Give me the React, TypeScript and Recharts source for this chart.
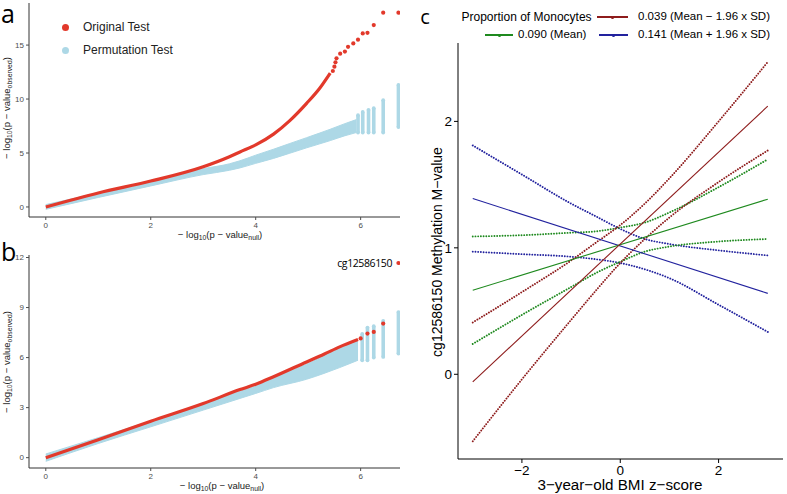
import React from "react";
import { ComposedChart, LineChart, Line, Area, Scatter, XAxis, YAxis } from "recharts";

const RED = "#e2392b";
const LBLUE = "#add8e6";
const AXIS = "#333333";
const TICK = "#4d4d4d";
const SANS = "'Liberation Sans', Arial, Helvetica, sans-serif";

// panel a: QQ plot, genome-wide
const aX = [0, 1, 2, 3, 3.5, 3.7, 4, 4.34, 4.65, 4.97, 5.22, 5.42, 5.7, 5.92];
const aOriginal = [0, 1.3, 2.4, 3.73, 4.66, 5.1, 5.75, 6.75, 8.0, 9.6, 11.0, 12.4, null, null];
const aPermLow = [-0.22, 0.88, 1.95, 3.0, 3.4, 3.62, 4.04, 4.5, 4.98, 5.48, 5.85, 6.15, 6.6, 6.9];
const aPermHigh = [0.22, 1.3, 2.45, 3.55, 4.0, 4.28, 4.8, 5.35, 5.88, 6.42, 6.85, 7.2, 7.72, 8.1];
const aTailX = [5.47, 5.5, 5.52, 5.54, 5.61, 5.7, 5.76, 5.86, 5.95, 6.04, 6.13, 6.25, 6.43, 6.72];
const aTailY = [12.6, 13.0, 13.4, 13.77, 14.2, 14.4, 14.84, 15.15, 15.5, 16.08, 16.14, 16.85, 18.0, 18.0];
const aStripeX = [5.95, 6.04, 6.15, 6.25, 6.43, 6.72];
const aStripeLow = [6.9, 6.9, 6.9, 6.9, 6.9, 7.4];
const aStripeHigh = [8.5, 8.8, 9.0, 9.15, 9.9, 11.3];

// panel b: QQ plot, candidate
const bX = [0, 1, 2, 3, 3.7, 4, 4.34, 4.97, 5.3, 5.6, 5.95];
const bOriginal = [0, 1.08, 2.18, 3.24, 4.08, 4.4, 4.85, 5.74, 6.2, 6.64, 7.08];
const bPermLow = [-0.22, 0.85, 1.85, 2.85, 3.55, 3.85, 4.2, 4.7, 5.05, 5.4, 5.84];
const bPermHigh = [0.22, 1.2, 2.2, 3.25, 3.98, 4.3, 4.8, 5.6, 6.1, 6.55, 7.0];
const bTailX = [6.0, 6.13, 6.25, 6.43, 6.72];
const bTailY = [7.15, 7.44, 7.54, 8.04, 11.67];
const bStripeX = [6.03, 6.13, 6.25, 6.43, 6.72];
const bStripeLow = [5.84, 5.84, 6.0, 6.04, 6.24];
const bStripeHigh = [7.42, 7.8, 7.88, 8.2, 8.73];

// panel c: simple slopes
const cX = [-3, -2, -1, -0.5, 0, 0.5, 1, 2, 3];
const lowFit = [-0.06, null, null, null, null, null, null, null, 2.12];
const lowUpper = [0.41, 0.65, 0.9, 1.04, 1.18, 1.35, 1.55, 2.0, 2.47];
const lowLower = [-0.53, -0.04, 0.43, 0.66, 0.88, 1.07, 1.24, 1.52, 1.77];
const meanFit = [0.665, null, null, null, null, null, null, null, 1.385];
const meanUpper = [1.09, 1.1, 1.12, 1.13, 1.16, 1.2, 1.28, 1.48, 1.7];
const meanLower = [0.24, 0.47, 0.69, 0.8, 0.89, 0.97, 1.01, 1.05, 1.07];
const highFit = [1.39, null, null, null, null, null, null, null, 0.64];
const highUpper = [1.81, 1.58, 1.35, 1.25, 1.15, 1.07, 1.03, 0.98, 0.94];
const highLower = [0.97, 0.95, 0.93, 0.91, 0.88, 0.83, 0.76, 0.55, 0.335];

const DRED = "#8e1c1c";
const DGREEN = "#1f8a1f";
const DBLUE = "#22229e";

const dot = (fill: string, r: number) => (p: any) => <circle cx={p.cx} cy={p.cy} r={r} fill={fill} />;

function Txt({ x, y, size, children, color = "#111", rotate = false, family = SANS, anchor = "middle", style }: any) {
  let transform = "translate(-50%,-50%)";
  if (anchor === "start") transform = "translateY(-50%)";
  if (anchor === "end") transform = "translate(-100%,-50%)";
  if (anchor === "top") transform = "none";
  if (rotate) transform = "translate(-50%,-50%) rotate(-90deg)";
  return (
    <div
      style={{
        position: "absolute",
        left: x,
        top: y,
        fontSize: size,
        color,
        fontFamily: family,
        whiteSpace: "nowrap",
        lineHeight: 1,
        transform,
        ...style,
      }}
    >
      {children}
    </div>
  );
}

const sub = { fontSize: "0.72em", verticalAlign: "-0.25em" };

function QQPanel({ xs, original, low, high, tailX, tailY, stripeX, stripeLow, stripeHigh, yDomain, yTicks, top, height }: any) {
  const data = xs.map((x: number, i: number) => ({ x, original: original[i], perm: [low[i], high[i]] }));
  const tail = tailX.map((x: number, i: number) => ({ x, y: tailY[i] }));
  return (
    <div style={{ position: "absolute", left: 0, top }}>
      <ComposedChart width={400} height={height} data={data} margin={{ top: 3, right: 0, left: 0, bottom: 0 }}>
        <XAxis dataKey="x" type="number" domain={[-0.32, 6.75]} ticks={[0, 2, 4, 6]} height={23}
          stroke={AXIS} tickSize={3} tick={{ fontSize: 8, fill: TICK, fontFamily: SANS }} tickLine={{ stroke: TICK }} />
        <YAxis type="number" domain={yDomain} ticks={yTicks} width={29}
          stroke={AXIS} tickSize={3} tick={{ fontSize: 8, fill: TICK, fontFamily: SANS }} tickLine={{ stroke: TICK }} />
        <Area dataKey="perm" type="monotone" stroke={LBLUE} strokeWidth={1} fill={LBLUE} fillOpacity={1} isAnimationActive={false} />
        {stripeX.map((x: number, i: number) => (
          <Scatter key={i} dataKey="y" data={[{ x, y: stripeLow[i] }, { x, y: stripeHigh[i] }]}
            line={{ stroke: LBLUE, strokeWidth: 3.6 }} shape={dot(LBLUE, 1.9)} isAnimationActive={false} />
        ))}
        <Line dataKey="original" type="monotone" stroke={RED} strokeWidth={3.2} dot={false} isAnimationActive={false} />
        <Scatter dataKey="y" data={tail} shape={dot(RED, 2.1)} isAnimationActive={false} />
      </ComposedChart>
    </div>
  );
}

const minus = (v: number) => String(v).replace("-", "\u2212");

function LegendKey({ x, y, w, color }: any) {
  return (
    <>
      <div style={{ position: "absolute", left: x, top: y - 0.75, width: w, height: 1.5, background: color }} />
      <div style={{ position: "absolute", left: x + w / 2 - 1.5, top: y - 1.5, width: 3, height: 3, borderRadius: 2, background: color }} />
    </>
  );
}

export default function App() {
  const cData = cX.map((x, i) => ({
    x,
    lowFit: lowFit[i], lowUpper: lowUpper[i], lowLower: lowLower[i],
    meanFit: meanFit[i], meanUpper: meanUpper[i], meanLower: meanLower[i],
    highFit: highFit[i], highUpper: highUpper[i], highLower: highLower[i],
  }));
  const dotted = {
    strokeDasharray: "0.01 2.7",
    strokeLinecap: "round" as const,
    strokeWidth: 1.9,
    dot: false,
    type: "monotone" as const,
    isAnimationActive: false,
  };
  const solid = { strokeWidth: 1.1, dot: false, type: "linear" as const, connectNulls: true, isAnimationActive: false };
  const yTitle = (
    <>
      {"\u2212"} log<span style={sub}>10</span>(p {"\u2212"} value<span style={sub}>observed</span>)
    </>
  );
  const xTitle = (
    <>
      {"\u2212"} log<span style={sub}>10</span>(p {"\u2212"} value<span style={sub}>null</span>)
    </>
  );
  return (
    <div style={{ position: "absolute", left: 0, top: 0, width: 787, height: 494, background: "#fff", overflow: "hidden", fontFamily: SANS }}>
      <QQPanel xs={aX} original={aOriginal} low={aPermLow} high={aPermHigh} tailX={aTailX} tailY={aTailY}
        stripeX={aStripeX} stripeLow={aStripeLow} stripeHigh={aStripeHigh}
        yDomain={[-0.93, 18.9]} yTicks={[0, 5, 10, 15]} top={0} height={240} />
      <QQPanel xs={bX} original={bOriginal} low={bPermLow} high={bPermHigh} tailX={bTailX} tailY={bTailY}
        stripeX={bStripeX} stripeLow={bStripeLow} stripeHigh={bStripeHigh}
        yDomain={[-0.62, 12.15]} yTicks={[0, 3, 6, 9, 12]} top={252} height={239} />

      <div style={{ position: "absolute", left: 400, top: 0 }}>
        <LineChart width={387} height={494} data={cData} margin={{ top: 43, right: 4, left: 0, bottom: 0 }}>
          <XAxis dataKey="x" type="number" domain={[-3.3, 3.31]} ticks={[-2, 0, 2]} height={35} stroke="#000"
            tickSize={4} tickFormatter={minus} tick={{ fontSize: 13.5, fill: "#000", fontFamily: SANS }} />
          <YAxis type="number" domain={[-0.67, 2.62]} ticks={[0, 1, 2]} width={58} stroke="#000"
            tickSize={4} tick={{ fontSize: 13.5, fill: "#000", fontFamily: SANS }} />
          <Line dataKey="highUpper" stroke={DBLUE} {...dotted} />
          <Line dataKey="highLower" stroke={DBLUE} {...dotted} />
          <Line dataKey="meanUpper" stroke={DGREEN} {...dotted} />
          <Line dataKey="meanLower" stroke={DGREEN} {...dotted} />
          <Line dataKey="lowUpper" stroke={DRED} {...dotted} />
          <Line dataKey="lowLower" stroke={DRED} {...dotted} />
          <Line dataKey="highFit" stroke={DBLUE} {...solid} />
          <Line dataKey="meanFit" stroke={DGREEN} {...solid} />
          <Line dataKey="lowFit" stroke={DRED} {...solid} />
        </LineChart>
      </div>

      {/* panel a texts */}
      <Txt x={1} y={0} size={25} family="'Open Sans', sans-serif" color="#000" anchor="top" style={{ lineHeight: "27px" }}>a</Txt>
      <div style={{ position: "absolute", left: 61.5, top: 23.5, width: 7, height: 7, borderRadius: 4, background: RED }} />
      <Txt x={83} y={27} size={12} color="#222" anchor="start">Original Test</Txt>
      <div style={{ position: "absolute", left: 61.5, top: 46.5, width: 7, height: 7, borderRadius: 4, background: LBLUE }} />
      <Txt x={83} y={50} size={12} color="#222" anchor="start">Permutation Test</Txt>
      <Txt x={8} y={108} size={9.5} color="#222" rotate>{yTitle}</Txt>
      <Txt x={220} y={236} size={9.5} color="#222">{xTitle}</Txt>

      {/* panel b texts */}
      <Txt x={1} y={239} size={25} family="'Open Sans', sans-serif" color="#000" anchor="top" style={{ lineHeight: "25px" }}>b</Txt>
      <Txt x={8} y={362} size={9.5} color="#222" rotate>{yTitle}</Txt>
      <Txt x={222} y={487} size={9.5} color="#222">{xTitle}</Txt>
      <Txt x={392} y={263} size={10.5} family="'Open Sans', sans-serif" color="#000" anchor="end" style={{ letterSpacing: -0.4 }}>cg12586150</Txt>

      {/* panel c texts */}
      <Txt x={425} y={17} size={20} family="'Open Sans', sans-serif" color="#000">c</Txt>
      <Txt x={461.5} y={17} size={12} color="#000" anchor="start">Proportion of Monocytes</Txt>
      <LegendKey x={597} y={17} w={31} color={DRED} />
      <Txt x={638} y={17} size={11.5} color="#000" anchor="start">0.039 (Mean {"\u2212"} 1.96 x SD)</Txt>
      <LegendKey x={485} y={35} w={28} color={DGREEN} />
      <Txt x={518} y={35} size={11.5} color="#000" anchor="start">0.090 (Mean)</Txt>
      <LegendKey x={599} y={35} w={29} color={DBLUE} />
      <Txt x={638} y={35} size={11.5} color="#000" anchor="start">0.141 (Mean + 1.96 x SD)</Txt>
      <Txt x={437} y={252} size={14} color="#000" rotate>cg12586150 Methylation M{"\u2212"}value</Txt>
      <Txt x={620} y={485} size={15.2} color="#000">3{"\u2212"}year{"\u2212"}old BMI z{"\u2212"}score</Txt>
    </div>
  );
}
